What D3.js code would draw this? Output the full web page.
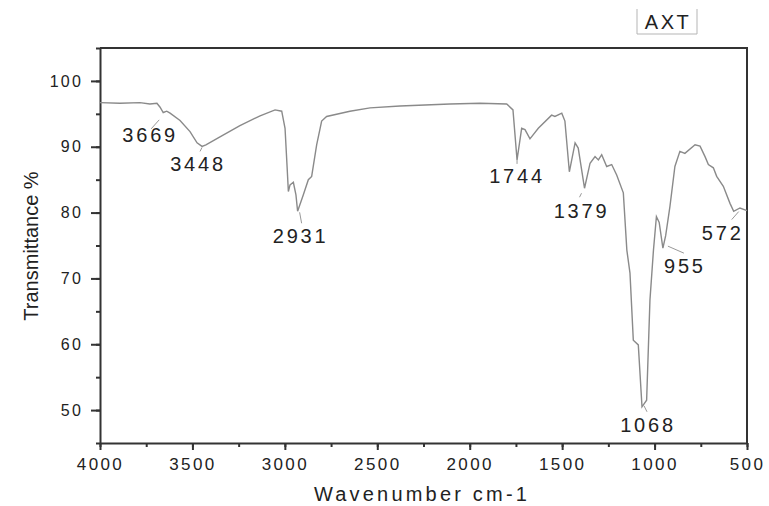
<!DOCTYPE html>
<html>
<head>
<meta charset="utf-8">
<script src="https://cdn.jsdelivr.net/npm/d3@7"></script>
<style>
	body { margin: 0; background: #fff; }
	text { font-family: "Liberation Sans", Arial, sans-serif; fill: #222; }
</style>
</head>
<body>
<svg width="769" height="506"></svg>
<script>
//FTIR spectrum of AXT
var wavenumber = [4000, 3892, 3784, 3730, 3692, 3675, 3658, 3639, 3621, 3567, 3513, 3475, 3448, 3427, 3351, 3243, 3134, 3053, 3017,
	2999, 2988, 2981, 2972, 2954, 2940, 2931, 2900, 2873, 2855, 2828, 2801, 2774, 2648, 2539, 2377, 2107, 1944, 1800, 1766,
	1744, 1719, 1701, 1674, 1629, 1557, 1539, 1502, 1485, 1461, 1430, 1413, 1379, 1349, 1322, 1304, 1286, 1259, 1232, 1205,
	1169, 1150, 1133, 1115, 1088, 1068, 1043, 1025, 1006, 990, 975, 955, 940, 917, 890, 863, 836, 781, 754, 727, 709, 682,
	664, 628, 592, 572, 538, 500];
var transmittance = [96.7, 96.6, 96.7, 96.5, 96.6, 96.0, 95.2, 95.4, 95.1, 94.0, 92.3, 90.6, 90.05, 90.3, 91.5, 93.2, 94.7, 95.6, 95.4,
	92.8, 87.0, 83.2, 84.2, 84.6, 82.7, 80.2, 82.7, 85.0, 85.5, 90.3, 93.9, 94.6, 95.4, 95.9, 96.2, 96.5, 96.6, 96.5, 95.6,
	88.0, 92.8, 92.6, 91.2, 92.8, 94.8, 94.6, 95.1, 93.9, 86.2, 90.6, 89.8, 83.7, 87.5, 88.5, 88.0, 88.8, 87.0, 87.3, 85.7,
	83.0, 74.3, 70.8, 60.6, 59.9, 50.5, 51.5, 66.7, 74.3, 79.4, 78.5, 74.6, 76.5, 80.9, 87.0, 89.3, 89.0, 90.3, 90.1, 88.5, 87.3, 86.8,
	85.5, 84.0, 81.4, 80.2, 80.7, 80.3];

//Marked peaks
var peakLabels = ["3669", "3448", "2931", "1744", "1379", "1068", "955", "572"];
var peakWn = [3669, 3448, 2931, 1744, 1379, 1068, 955, 572];
var peakT = [95.0, 90.05, 80.2, 88.0, 83.7, 50.5, 74.6, 80.3];

var xTicks = [4000, 3500, 3000, 2500, 2000, 1500, 1000, 500];
var yTicks = [50, 60, 70, 80, 90, 100];

var svg = d3.select("svg");
var plotLeft = 100, plotRight = 747, plotTop = 48, plotBottom = 443;

var x = d3.scaleLinear().domain([4000, 500]).range([plotLeft, plotRight]);
var y = d3.scaleLinear().domain([45, 105]).range([plotBottom, plotTop]);

//Frame (top and right sides)
svg.append("path")
	.attr("d", "M" + plotLeft + "," + plotTop + "H" + plotRight + "V" + plotBottom)
	.style("fill", "none")
	.style("stroke", "#333")
	.style("stroke-width", "2px");

//Minor ticks first, then the labelled axes on top
svg.append("g")
	.attr("transform", "translate(0," + plotBottom + ")")
	.call(d3.axisBottom(x).tickValues(d3.range(4000, 499, -250)).tickSize(4).tickFormat(""))
	.call(function (g) { g.select(".domain").remove(); })
	.selectAll("line").style("stroke", "#333").style("stroke-width", "2px");

svg.append("g")
	.attr("transform", "translate(" + plotLeft + ",0)")
	.call(d3.axisLeft(y).tickValues(d3.range(45, 105.1, 5)).tickSize(4).tickFormat(""))
	.call(function (g) { g.select(".domain").remove(); })
	.selectAll("line").style("stroke", "#333").style("stroke-width", "2px");

var xAxis = svg.append("g")
	.attr("transform", "translate(0," + plotBottom + ")")
	.call(d3.axisBottom(x).tickValues(xTicks).tickFormat(d3.format("d")).tickSize(7).tickPadding(8).tickSizeOuter(0));

var yAxis = svg.append("g")
	.attr("transform", "translate(" + plotLeft + ",0)")
	.call(d3.axisLeft(y).tickValues(yTicks).tickFormat(d3.format("d")).tickSize(9).tickPadding(8).tickSizeOuter(0));

[xAxis, yAxis].forEach(function (g) {
	g.select(".domain").style("stroke", "#333").style("stroke-width", "2px");
	g.selectAll(".tick line").style("stroke", "#333").style("stroke-width", "2px");
	g.selectAll(".tick text").style("fill", "#222").style("font-family", "Liberation Sans, Arial, sans-serif");
});
xAxis.selectAll(".tick text").style("font-size", "17px").style("letter-spacing", "2.4px");
yAxis.selectAll(".tick text").style("font-size", "16px").style("letter-spacing", "2.2px");

//Spectrum line
var points = wavenumber.map(function (d, i) { return [d, transmittance[i]]; });
svg.append("path")
	.datum(points)
	.attr("d", d3.line().x(function (d) { return x(d[0]); }).y(function (d) { return y(d[1]); }))
	.style("fill", "none")
	.style("stroke", "#8a8a8a")
	.style("stroke-width", "1.4px");

//Peak labels: leader offsets and text offsets in pixels from the peak
var leader = [[[-2, 6], [-10, 15]], [[0, 1], [-2, 5]], [[2, 1], [4, 12]], [[0, 0], [0, 4]], [[-3, 5], [-5, 9]],
	[[2, -1], [5, 5]], [[5, -2], [21, 5]], [[5, 1], [-2, 9]]];
var textPos = [[-11, 28], [-4, 25], [3, 32], [0, 23], [-3, 30], [6, 25], [22, 25], [-11, 29]];

var peaks = svg.append("g")
	.selectAll("g")
	.data(peakLabels)
	.enter()
	.append("g")
	.attr("transform", function (d, i) { return "translate(" + x(peakWn[i]) + "," + y(peakT[i]) + ")"; });

peaks.append("line")
	.attr("x1", function (d, i) { return leader[i][0][0]; })
	.attr("y1", function (d, i) { return leader[i][0][1]; })
	.attr("x2", function (d, i) { return leader[i][1][0]; })
	.attr("y2", function (d, i) { return leader[i][1][1]; })
	.style("stroke", "#999")
	.style("stroke-width", "1px");

peaks.append("text")
	.attr("x", function (d, i) { return textPos[i][0]; })
	.attr("y", function (d, i) { return textPos[i][1]; })
	.style("text-anchor", "middle")
	.style("font-size", "20px")
	.style("letter-spacing", "2.8px")
	.text(function (d) { return d; });

//Axis titles
svg.append("text")
	.attr("transform", "translate(38,246) rotate(-90)")
	.style("text-anchor", "middle")
	.style("font-size", "20px")
	.text("Transmittance %");

svg.append("text")
	.attr("x", 422)
	.attr("y", 501)
	.style("text-anchor", "middle")
	.style("font-size", "20px")
	.style("letter-spacing", "3.2px")
	.text("Wavenumber cm-1");

//Legend box
svg.append("path")
	.attr("d", "M637,9V34H697V9")
	.style("fill", "none")
	.style("stroke", "#b5b5b5")
	.style("stroke-width", "1px");

svg.append("text")
	.attr("x", 668)
	.attr("y", 29)
	.style("text-anchor", "middle")
	.style("font-size", "20px")
	.style("letter-spacing", "2.5px")
	.text("AXT");
</script>
</body>
</html>
